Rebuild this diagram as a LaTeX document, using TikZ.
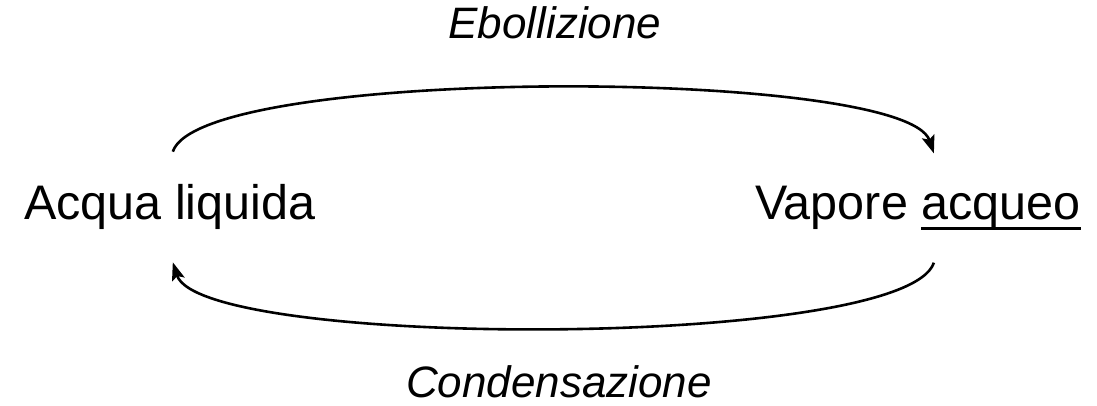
\documentclass[tikz,border=0pt]{standalone}
\usepackage{fontspec}
\setmainfont{Liberation Sans}
\usetikzlibrary{calc, arrows.meta}
\newcommand{\ulword}[1]{\setbox0\hbox{#1}\rlap{\rule[-10.5pt]{\wd0}{2.8pt}}\box0}

\begin{document}
\begin{tikzpicture}[x=1pt, y=1pt,
    state/.style={inner sep=0pt, anchor=base west, font=\fontsize{48.5}{58}\selectfont},
    proc/.style={inner sep=0pt, anchor=base, font=\fontsize{44}{52}\selectfont\itshape},
    flow/.style={line width=2.6pt, -{Stealth[length=18pt, width=13pt, inset=3.5pt]}}]
      \useasboundingbox (0,0) rectangle (1097,405);
      \node[state] (liq) at (24,186) {Acqua liquida};
      \node[state] (vap) at (755,186) {Vapore \ulword{acqueo}};
      \node[proc] (ebo) at (555,366) {Ebollizione};
      \node[proc] (con) at (559,8) {Condensazione};
      \draw[flow] ([shift={(3pt,32pt)}]liq.north) .. controls +(28,86) and +(-29,86) .. ([shift={(16pt,32pt)}]vap.north);
      \draw[flow] ([shift={(16pt,-33pt)}]vap.south) .. controls +(-29,-87) and +(28,-87) .. ([shift={(3pt,-33pt)}]liq.south);
    \end{tikzpicture}
\end{document}
